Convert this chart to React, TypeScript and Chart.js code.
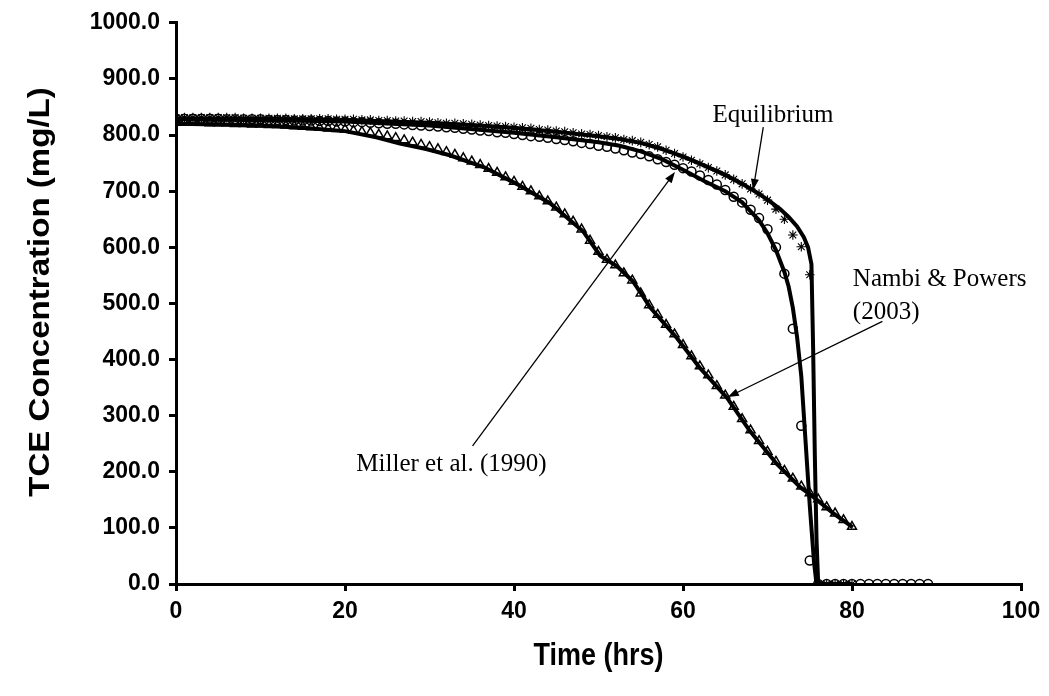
import { useEffect, useRef } from "react";
import Chart from "chart.js/auto";

// Axis ticks
const xTickValues = [0, 20, 40, 60, 80, 100];
const yTickValues = [0, 100, 200, 300, 400, 500, 600, 700, 800, 900, 1000];

// Axis titles
const xTitle = "Time (hrs)";
const yTitle = "TCE Concentration (mg/L)";

// Equilibrium model line
const eqLineT = [0, 10, 20, 30, 35, 40, 45, 50, 52.5, 55, 57.5, 60, 62.5, 65, 67, 68.5, 70, 71.5, 72.5, 73.5, 74.3, 74.8, 75.2, 75.4, 75.6, 75.8, 76, 80];
const eqLineV = [830, 829, 827, 822, 818, 813, 806, 798, 793, 786, 775, 762, 746, 729, 713, 700, 685, 668, 654, 637, 618, 600, 570, 420, 230, 80, 0, 0];

// Miller et al. (1990) model line
const miLineT = [0, 10, 20, 30, 40, 45, 50, 52.5, 55, 57.5, 60, 62.5, 65, 67, 69, 70, 71, 72, 72.5, 73, 73.5, 74, 74.5, 75, 75.5, 75.8, 80];
const miLineV = [828, 827, 824, 817, 804, 796, 787, 781, 771, 757, 738, 718, 700, 680, 648, 625, 595, 556, 530, 492, 440, 370, 255, 140, 40, 0, 0];

// Nambi & Powers (2003) model line
const npLineT = [0, 5, 10, 15, 20, 23.7, 26.5, 29.6, 32.4, 36.4, 40.3, 44.3, 48.2, 50.2, 52.2, 54.1, 55.3, 56.1, 59.3, 62, 65.2, 67.9, 71.1, 73.9, 75.2, 77.8, 80.1];
const npLineV = [820, 819, 817, 813, 807, 796, 785, 775, 764, 743, 713, 678, 628, 585, 566, 539, 512, 493, 438, 385, 332, 273, 214, 172, 158, 126, 101];

// Marker series (hourly)
const triT = [0,1,2,3,4,5,6,7,8,9,10,11,12,13,14,15,16,17,18,19,20,21,22,23,24,25,26,27,28,29,30,31,32,33,34,35,36,37,38,39,40,41,42,43,44,45,46,47,48,49,50,51,52,53,54,55,56,57,58,59,60,61,62,63,64,65,66,67,68,69,70,71,72,73,74,75,76,77,78,79,80];
const triV = [822,822,822,822,821,821,821,820,820,819,819,818,818,817,816,815,814,813,812,811,810,808,806,804,801,798,795,791,787,783,779,775,770,765,759,753,747,740,733,725,717,708,700,691,682,671,659,646,632,612,592,578,568,554,541,518,497,480,462,445,426,406,388,372,353,336,316,294,274,255,236,218,202,188,174,162,151,137,126,114,102];

const cirT = [0,1,2,3,4,5,6,7,8,9,10,11,12,13,14,15,16,17,18,19,20,21,22,23,24,25,26,27,28,29,30,31,32,33,34,35,36,37,38,39,40,41,42,43,44,45,46,47,48,49,50,51,52,53,54,55,56,57,58,59,60,61,62,63,64,65,66,67,68,69,70,71,72,73,74,75,76,77,78,79,80,81,82,83,84,85,86,87,88,89];
const cirV = [829,829,829,829,829,829,828,828,828,828,828,827,827,827,826,826,826,825,825,824,824,823,823,822,821,820,820,819,818,817,816,815,814,813,811,810,808,807,805,804,802,800,798,797,795,793,791,789,786,784,781,779,776,773,769,766,762,757,752,747,741,735,728,720,712,702,690,680,667,652,632,600,553,455,282,42,0,0,0,0,0,0,0,0,0,0,0,0,0,0];

const crsT = [0,1,2,3,4,5,6,7,8,9,10,11,12,13,14,15,16,17,18,19,20,21,22,23,24,25,26,27,28,29,30,31,32,33,34,35,36,37,38,39,40,41,42,43,44,45,46,47,48,49,50,51,52,53,54,55,56,57,58,59,60,61,62,63,64,65,66,67,68,69,70,71,72,73,74,75,76,77,78,79,80];
const crsV = [831,831,831,831,831,831,831,831,830,830,830,830,830,830,829,829,829,829,829,828,828,828,827,827,826,826,825,825,824,824,823,822,821,821,820,819,818,817,816,815,814,813,812,810,809,807,806,804,802,801,799,797,795,792,790,787,783,779,773,767,761,755,749,742,736,729,721,713,704,695,684,668,650,622,601,551,0,0,0,0,0];

const pts = (t: number[], v: number[]) => t.map((x, i) => ({ x, y: v[i] }));

const annoFont = '25px "Liberation Serif", "Times New Roman", serif';
const boldSans = "Arial, 'Liberation Sans', sans-serif";

const annotationPlugin = {
  id: "annotations",
  afterDatasetsDraw(chart: any) {
    const { ctx, scales } = chart;
    const px = (x: number) => scales.x.getPixelForValue(x);
    const py = (y: number) => scales.y.getPixelForValue(y);
    const arrow = (x1: number, y1: number, x2: number, y2: number) => {
      const ax = px(x1), ay = py(y1), bx = px(x2), by = py(y2);
      const ang = Math.atan2(by - ay, bx - ax);
      const len = 11, w = 4;
      ctx.save();
      ctx.strokeStyle = "#000";
      ctx.fillStyle = "#000";
      ctx.lineWidth = 1.3;
      ctx.beginPath();
      ctx.moveTo(ax, ay);
      ctx.lineTo(bx - Math.cos(ang) * len * 0.8, by - Math.sin(ang) * len * 0.8);
      ctx.stroke();
      ctx.beginPath();
      ctx.moveTo(bx, by);
      ctx.lineTo(bx - Math.cos(ang) * len + Math.sin(ang) * w, by - Math.sin(ang) * len - Math.cos(ang) * w);
      ctx.lineTo(bx - Math.cos(ang) * len - Math.sin(ang) * w, by - Math.sin(ang) * len + Math.cos(ang) * w);
      ctx.closePath();
      ctx.fill();
      ctx.restore();
    };
    const text = (s: string, x: number, y: number, align: CanvasTextAlign) => {
      ctx.save();
      ctx.font = annoFont;
      ctx.fillStyle = "#000";
      ctx.textAlign = align;
      ctx.textBaseline = "middle";
      ctx.fillText(s, px(x), py(y));
      ctx.restore();
    };
    text("Equilibrium", 63.5, 835, "left");
    arrow(69.5, 814, 68.3, 702);
    text("Miller et al. (1990)", 32.6, 213, "center");
    arrow(35.1, 246, 59.05, 734);
    text("Nambi & Powers", 80.1, 543, "left");
    text("(2003)", 80.1, 484, "left");
    arrow(83.6, 468, 65.3, 333);

    // axis titles (slightly stretched like the original rendering)
    const area = chart.chartArea;
    ctx.save();
    ctx.fillStyle = "#000";
    ctx.textAlign = "center";
    ctx.textBaseline = "middle";
    ctx.font = `bold 27px ${boldSans}`;
    ctx.translate((area.left + area.right) / 2, 656);
    ctx.scale(1, 1.15);
    ctx.fillText(xTitle, 0, 0);
    ctx.restore();

    ctx.save();
    ctx.fillStyle = "#000";
    ctx.textAlign = "center";
    ctx.textBaseline = "middle";
    ctx.font = `bold 29px ${boldSans}`;
    ctx.translate(41, 292);
    ctx.rotate(-Math.PI / 2);
    ctx.scale(1.14, 1);
    ctx.fillText(yTitle, 0, 0);
    ctx.restore();
  },
};

export default function App() {
  const ref = useRef<HTMLCanvasElement | null>(null);
  useEffect(() => {
    if (!ref.current) return;
    const lineDs = (t: number[], v: number[]) => ({
      data: pts(t, v),
      borderColor: "#000",
      borderWidth: 4,
      pointRadius: 0,
      showLine: true,
      tension: 0,
      fill: false,
    });
    const markDs = (t: number[], v: number[], style: string, r: number, bw: number) => ({
      data: pts(t, v),
      showLine: false,
      pointStyle: style,
      pointRadius: r,
      pointBorderColor: "#000",
      pointBackgroundColor: "rgba(0,0,0,0)",
      pointBorderWidth: bw,
    });
    const chart = new Chart(ref.current, {
      type: "scatter",
      data: {
        datasets: [
          markDs(triT, triV, "triangle", 5.2, 1.5) as any,
          markDs(cirT, cirV, "circle", 4.5, 1.5) as any,
          markDs(crsT, crsV, "star", 4.8, 1.1) as any,
          lineDs(npLineT, npLineV) as any,
          lineDs(miLineT, miLineV) as any,
          lineDs(eqLineT, eqLineV) as any,
        ],
      },
      options: {
        animation: false,
        responsive: true,
        maintainAspectRatio: false,
        layout: { padding: { left: 0, right: 28, top: 20, bottom: 0 } },
        plugins: { legend: { display: false }, tooltip: { enabled: false } },
        scales: {
          x: {
            type: "linear",
            min: 0,
            max: 100,
            afterFit: (s: any) => { s.height = 112; },
            afterBuildTicks: (s: any) => { s.ticks = xTickValues.map((value) => ({ value })); },
            ticks: {
              color: "#000",
              padding: 7,
              font: { family: boldSans, size: 23, weight: "bold" },
            },
            grid: { drawOnChartArea: false, drawTicks: true, tickLength: 7, color: "#000", lineWidth: 3 },
            border: { display: true, color: "#000", width: 3 },
          },
          y: {
            type: "linear",
            min: 0,
            max: 1000,
            afterFit: (s: any) => { s.width = 176; },
            afterBuildTicks: (s: any) => { s.ticks = yTickValues.map((value) => ({ value })); },
            ticks: {
              color: "#000",
              padding: 9,
              font: { family: boldSans, size: 23, weight: "bold" },
              callback: (v: any) => Number(v).toFixed(1),
            },
            grid: { drawOnChartArea: false, drawTicks: true, tickLength: 7, color: "#000", lineWidth: 3 },
            border: { display: true, color: "#000", width: 3 },
          },
        },
      },
      plugins: [annotationPlugin],
    });
    return () => chart.destroy();
  }, []);
  return (
    <div style={{ position: "absolute", left: 0, top: 0, width: 1049, height: 696, background: "#fff" }}>
      <canvas ref={ref} />
    </div>
  );
}
